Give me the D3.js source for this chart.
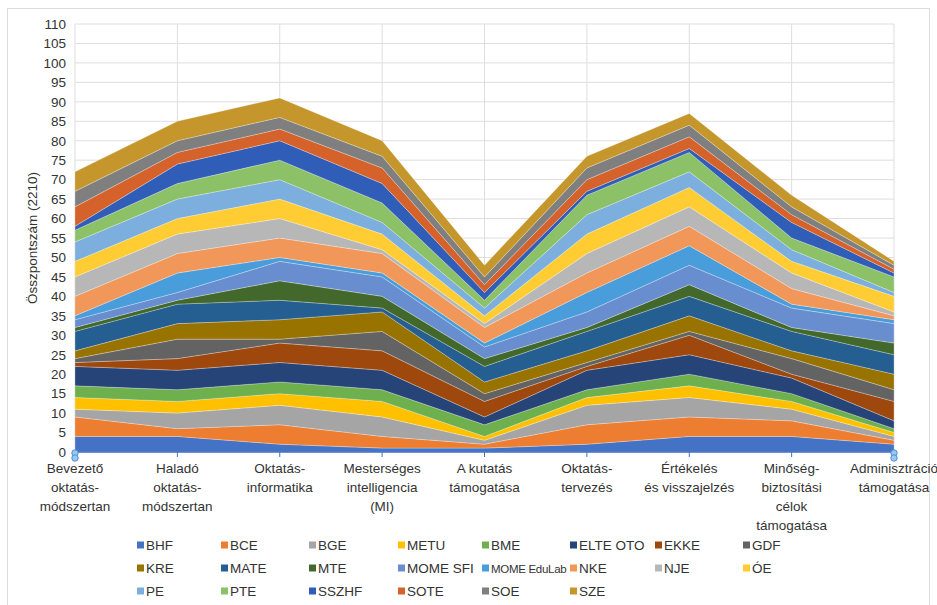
<!DOCTYPE html>
<html>
<head>
<meta charset="utf-8">
<script src="https://cdn.jsdelivr.net/npm/d3@7"></script>
<style>
  body { margin: 0; background: #fff; }
  svg { display: block; font-family: "Liberation Sans", Arial, sans-serif; }
</style>
</head>
<body>
<div class="chart"></div>
<script>
const FRAME_WIDTH = 937;
const FRAME_HEIGHT = 605;
const MARGINS = {left: 75, right: 43, top: 24, bottom: 153};

// categories (x axis), each label split into lines
const CATEGORIES = [
  ["Bevezető", "oktatás-", "módszertan"],
  ["Haladó", "oktatás-", "módszertan"],
  ["Oktatás-", "informatika"],
  ["Mesterséges", "intelligencia", "(MI)"],
  ["A kutatás", "támogatása"],
  ["Oktatás-", "tervezés"],
  ["Értékelés", "és visszajelzés"],
  ["Minőség-", "biztosítási", "célok", "támogatása"],
  ["Adminisztráció", "támogatása"]
];

const SERIES = ["BHF", "BCE", "BGE", "METU", "BME", "ELTE OTO", "EKKE", "GDF",
  "KRE", "MATE", "MTE", "MOME SFI", "MOME EduLab", "NKE", "NJE", "ÓE",
  "PE", "PTE", "SSZHF", "SOTE", "SOE", "SZE"];

const COLORS = ["#4472c4", "#ed7d31", "#a5a5a5", "#ffc000", "#6db04d", "#264478",
  "#9e480e", "#636363", "#997300", "#255e91", "#43682b", "#698ed0",
  "#4a9ddb", "#f1975a", "#b7b7b7", "#ffcd33", "#7cafdd", "#8cc168",
  "#2f5db8", "#d4622a", "#7f7f7f", "#c4962c"];

// values per series, one per category
const BHF       = [4, 4, 2, 1, 1, 2, 4, 4, 2];
const BCE       = [5, 2, 5, 3, 1, 5, 5, 4, 1];
const BGE       = [2, 4, 5, 5, 1, 5, 5, 3, 1];
const METU      = [3, 3, 3, 4, 1, 2, 3, 2, 1];
const BME       = [3, 3, 3, 3, 3, 2, 3, 2, 1];
const ELTE_OTO  = [5, 5, 5, 5, 2, 5, 5, 4, 2];
const EKKE      = [1, 3, 5, 5, 4, 1, 5, 1, 5];
const GDF       = [1, 5, 1, 5, 2, 1, 1, 4, 3];
const KRE       = [2, 4, 5, 5, 3, 3, 4, 2, 4];
const MATE      = [5, 5, 5, 1, 4, 5, 5, 5, 5];
const MTE       = [1, 1, 5, 3, 2, 1, 3, 1, 3];
const MOME_SFI  = [2, 2, 5, 5, 3, 4, 5, 5, 5];
const MOME_EDU  = [1, 5, 1, 1, 1, 5, 5, 1, 1];
const NKE       = [5, 5, 5, 5, 4, 5, 5, 4, 1];
const NJE       = [5, 5, 5, 1, 1, 5, 5, 4, 1];
const OE        = [4, 4, 5, 4, 2, 5, 5, 3, 4];
const PE        = [5, 5, 5, 3, 2, 5, 4, 3, 1];
const PTE       = [3, 4, 5, 5, 2, 5, 5, 3, 4];
const SSZHF     = [1, 5, 5, 5, 2, 1, 1, 4, 1];
const SOTE      = [5, 3, 3, 4, 2, 3, 3, 2, 1];
const SOE       = [4, 3, 3, 3, 2, 3, 3, 2, 1];
const SZE       = [5, 5, 5, 4, 3, 3, 3, 3, 1];

const VALUES = [BHF, BCE, BGE, METU, BME, ELTE_OTO, EKKE, GDF, KRE, MATE, MTE,
  MOME_SFI, MOME_EDU, NKE, NJE, OE, PE, PTE, SSZHF, SOTE, SOE, SZE];

const Y_TICKS = d3.range(0, 111, 5);

const CHART_WIDTH = FRAME_WIDTH - MARGINS.left - MARGINS.right;
const CHART_HEIGHT = FRAME_HEIGHT - MARGINS.top - MARGINS.bottom;

const FRAME = d3.select(".chart")
  .append("svg")
  .attr("width", FRAME_WIDTH)
  .attr("height", FRAME_HEIGHT);

// outer frame
FRAME.append("rect")
  .attr("x", 7.5).attr("y", 8.5)
  .attr("width", 922).attr("height", 620)
  .attr("fill", "none")
  .attr("stroke", "#dcdcdc");

const G = FRAME.append("g")
  .attr("transform", "translate(" + MARGINS.left + "," + MARGINS.top + ")");

// table for the stack
const TABLE = CATEGORIES.map((c, i) => {
  let row = {idx: i};
  SERIES.forEach((s, j) => { row[s] = VALUES[j][i]; });
  return row;
});

const X_SCALE = d3.scalePoint()
  .domain(d3.range(CATEGORIES.length))
  .range([0, CHART_WIDTH]);

const Y_SCALE = d3.scaleLinear()
  .domain([0, 110])
  .range([CHART_HEIGHT, 0]);

// grid
G.append("g")
  .selectAll("line.h")
  .data(Y_TICKS)
  .enter().append("line")
    .attr("x1", 0).attr("x2", CHART_WIDTH)
    .attr("y1", d => Y_SCALE(d)).attr("y2", d => Y_SCALE(d))
    .attr("stroke", "#dedede");

G.append("g")
  .selectAll("line.v")
  .data(d3.range(CATEGORIES.length))
  .enter().append("line")
    .attr("x1", d => X_SCALE(d)).attr("x2", d => X_SCALE(d))
    .attr("y1", 0).attr("y2", CHART_HEIGHT)
    .attr("stroke", "#dedede");

// stacked areas
const STACK = d3.stack().keys(SERIES)(TABLE);

const AREA = d3.area()
  .x(d => X_SCALE(d.data.idx))
  .y0(d => Y_SCALE(d[0]))
  .y1(d => Y_SCALE(d[1]));

G.selectAll("path.layer")
  .data(STACK)
  .enter().append("path")
    .attr("class", "layer")
    .attr("d", AREA)
    .attr("fill", (d, i) => COLORS[i])
    .attr("stroke", "rgba(255,255,255,0.45)")
    .attr("stroke-width", 0.6);

// y axis labels
const yAxis = G.append("g")
  .call(d3.axisLeft(Y_SCALE).tickValues(Y_TICKS).tickSize(0).tickPadding(9));
yAxis.select(".domain").remove();
yAxis.selectAll("text")
  .attr("font-size", "13.5px")
  .attr("fill", "#333")
  .attr("font-family", "Liberation Sans, Arial, sans-serif");

// x axis line and ticks
G.append("line")
  .attr("x1", 0).attr("x2", CHART_WIDTH)
  .attr("y1", CHART_HEIGHT).attr("y2", CHART_HEIGHT)
  .attr("stroke", "#4472c4").attr("stroke-width", 1.5);

G.selectAll("line.xt")
  .data(d3.range(CATEGORIES.length))
  .enter().append("line")
    .attr("x1", d => X_SCALE(d)).attr("x2", d => X_SCALE(d))
    .attr("y1", CHART_HEIGHT).attr("y2", CHART_HEIGHT + 5)
    .attr("stroke", "#4472c4");

// selection handles at both ends
[0, CATEGORIES.length - 1].forEach(i => {
  [1, 6].forEach(dy => {
    G.append("circle")
      .attr("cx", X_SCALE(i)).attr("cy", CHART_HEIGHT + dy)
      .attr("r", 3.2)
      .attr("fill", "#9cc8ee")
      .attr("stroke", "#4a90d9")
      .attr("stroke-width", 1);
  });
});

// x labels
const XL = G.selectAll("text.xl")
  .data(CATEGORIES)
  .enter().append("text")
    .attr("class", "xl")
    .attr("x", (d, i) => X_SCALE(i))
    .attr("y", CHART_HEIGHT + 21)
    .attr("text-anchor", "middle")
    .attr("font-size", "13.5px")
    .attr("fill", "#333")
    .attr("font-family", "Liberation Sans Narrow, Liberation Sans, Arial, sans-serif");

XL.selectAll("tspan")
  .data(d => d)
  .enter().append("tspan")
    .attr("x", function() { return d3.select(this.parentNode).attr("x"); })
    .attr("dy", (d, i) => i === 0 ? 0 : 19)
    .text(d => d);

// y title
FRAME.append("text")
  .attr("transform", "translate(37," + (MARGINS.top + CHART_HEIGHT / 2) + ") rotate(-90)")
  .attr("text-anchor", "middle")
  .attr("font-size", "13.5px")
  .attr("fill", "#333")
  .text("Összpontszám (2210)");

// legend
const LEG_X = [137, 221, 309, 398, 482, 570, 655, 743];
const LEG_Y = [545, 568, 591];

const LEG = FRAME.selectAll("g.leg")
  .data(SERIES)
  .enter().append("g")
    .attr("class", "leg")
    .attr("transform", (d, i) => "translate(" + LEG_X[i % 8] + "," + LEG_Y[Math.floor(i / 8)] + ")");

LEG.append("rect")
  .attr("x", 0).attr("y", -3.5)
  .attr("width", 7).attr("height", 7)
  .attr("fill", (d, i) => COLORS[i]);

LEG.append("text")
  .attr("x", 9).attr("y", 5)
  .attr("font-size", "13.5px")
  .attr("fill", "#333")
  .text(d => d)
  .each(function(d, i) {
    // shrink the long label so it stays clear of the next column
    const room = LEG_X[(i % 8) + 1] - LEG_X[i % 8] - 12;
    if (i % 8 < 7 && this.getComputedTextLength() > room) {
      d3.select(this).attr("font-size", "11.5px").attr("letter-spacing", "-0.3px");
    }
  });
</script>
</body>
</html>
